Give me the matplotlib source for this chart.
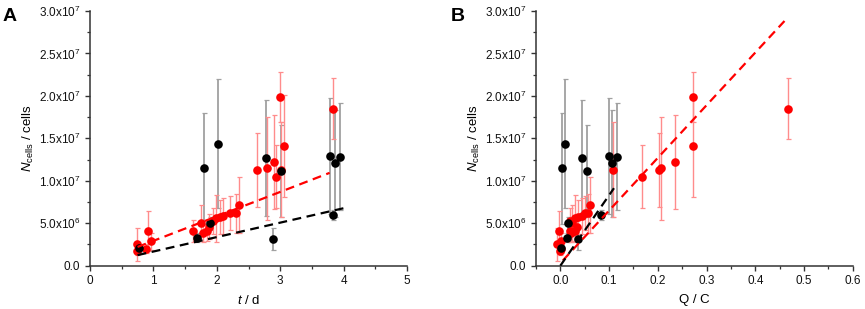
import matplotlib.pyplot as plt
import numpy as np
from matplotlib.ticker import FuncFormatter, MultipleLocator

plt.rcParams['font.family'] = ['Liberation Sans', 'DejaVu Sans']
plt.rcParams['mathtext.fontset'] = 'custom'
plt.rcParams['mathtext.rm'] = 'Liberation Sans'
plt.rcParams['mathtext.it'] = 'Liberation Sans:italic'
plt.rcParams['mathtext.bf'] = 'Liberation Sans:bold'

# red samples: time, charge, cell number, error
red_t = [0.735, 0.746, 0.89, 0.92, 0.956, 1.62, 1.75, 1.78, 1.84, 1.88, 1.94, 1.99, 2.05,
         2.10, 2.21, 2.30, 2.35, 2.64, 2.79, 2.91, 2.93, 3.00, 3.02, 3.06, 3.84]
red_Q = [-0.006, 0.000, 0.002, -0.003, 0.001, 0.020, 0.024, 0.022, 0.030, 0.034, 0.020, 0.031, 0.037,
         0.044, 0.051, 0.056, 0.061, 0.202, 0.207, 0.235, 0.167, 0.273, 0.108, 0.272, 0.468]
red_N = [2.5e6, 1.77e6, 2.0e6, 4.08e6, 2.9e6, 4.08e6, 5.06e6, 3.8e6, 4.1e6, 4.6e6, 5.26e6, 5.57e6, 5.77e6,
         5.85e6, 6.24e6, 6.16e6, 7.15e6, 11.27e6, 11.46e6, 12.2e6, 10.48e6, 19.9e6, 11.3e6, 14.1e6, 18.5e6]
red_err = [1.9e6, 0.5e6, 0.5e6, 2.4e6, 1.0e6, 1.3e6, 2.1e6, 1.0e6, 1.2e6, 1.5e6, 1.5e6, 2.8e6, 2.0e6,
           2.1e6, 2.0e6, 2.3e6, 3.3e6, 4.4e6, 6.1e6, 5.5e6, 3.7e6, 2.95e6, 5.6e6, 6.0e6, 3.55e6]

# black samples
blk_t = [0.78, 1.69, 1.80, 1.90, 2.02, 2.78, 2.89, 3.02, 3.78, 3.84, 3.86, 3.94]
blk_Q = [0.001, 0.014, 0.003, 0.016, 0.0095, 0.045, 0.036, 0.054, 0.100, 0.084, 0.107, 0.116]
blk_N = [2.04e6, 3.3e6, 11.46e6, 4.99e6, 14.37e6, 12.68e6, 3.18e6, 11.19e6, 12.92e6, 5.97e6, 12.05e6, 12.84e6]
blk_err = [0.4e6, 0.5e6, 6.5e6, 0.8e6, 7.6e6, 6.8e6, 1.3e6, 5.4e6, 6.8e6, 0.6e6, 6.3e6, 6.3e6]

# linear fits: slope, intercept, x range
fitA_red = (2.88e6, 0.05e6, 0.75, 3.78)
fitA_blk = (1.70e6, -0.03e6, 0.75, 4.0)
fitB_red = (62e6, 0.3e6, 0.005, 0.46)
fitB_blk = (83e6, 0.0, 0.0, 0.11)


def sci(v, pos):
    if v == 0:
        return '0.0'
    e = int(np.floor(np.log10(abs(v)) + 1e-9))
    m = v / 10**e
    return r'%.1fx10$^{%d}$' % (m, e)


def panel(ax, xr, xb, fr, fb):
    ax.errorbar(xb, blk_N, yerr=blk_err, fmt='none', ecolor='#a0a0a0', elinewidth=1.3,
                capsize=1.8, capthick=0.9, zorder=2)
    ax.errorbar(xr, red_N, yerr=red_err, fmt='none', ecolor='#ff8c8c', elinewidth=1.0,
                capsize=1.8, capthick=0.9, zorder=2)
    ax.plot(xr, red_N, 'o', color='#ff0000', ms=6.2, mec='none', zorder=3)
    ax.plot(xb, blk_N, 'o', color='black', ms=6.2, mec='none', zorder=3)
    for (m, b, x0, x1), c in ((fr, '#ff0000'), (fb, 'black')):
        xx = np.array([x0, x1])
        ax.plot(xx, m * xx + b, color=c, lw=1.6, dashes=(4.0, 2.5), zorder=4)
    ax.set_ylim(0, 3e7)
    ax.yaxis.set_major_locator(MultipleLocator(5e6))
    ax.yaxis.set_minor_locator(MultipleLocator(2.5e6))
    ax.yaxis.set_major_formatter(FuncFormatter(sci))
    for s in ('top', 'right'):
        ax.spines[s].set_visible(False)
    for s in ('left', 'bottom'):
        ax.spines[s].set_color('#333333')
        ax.spines[s].set_linewidth(1.1)
    ax.tick_params(which='major', direction='out', length=3.5, width=1.0, colors='#333333',
                   labelsize=8.5, labelcolor='#111111')
    ax.tick_params(which='minor', direction='out', length=2, width=0.9, colors='#333333')
    ax.set_ylabel(r'$\mathit{N}_{\mathrm{cells}}$ / cells', fontsize=9.5, labelpad=2)


fig = plt.figure(figsize=(8.65, 3.09), dpi=100)
axA = fig.add_axes([90 / 865, 43.3 / 309, 317 / 865, 254.7 / 309])
axB = fig.add_axes([536 / 865, 43.3 / 309, 316.7 / 865, 254.7 / 309])

panel(axA, red_t, blk_t, fitA_red, fitA_blk)
axA.set_xlim(0, 5)
axA.xaxis.set_major_locator(MultipleLocator(1))
axA.xaxis.set_minor_locator(MultipleLocator(0.5))
axA.set_xlabel(r'$\mathit{t}$ / d', fontsize=9.5, labelpad=5)

panel(axB, red_Q, blk_Q, fitB_red, fitB_blk)
axB.set_xlim(-0.05, 0.6)
axB.xaxis.set_major_locator(MultipleLocator(0.1))
axB.xaxis.set_minor_locator(MultipleLocator(0.05))
axB.xaxis.set_major_formatter(FuncFormatter(lambda v, p: '%.1f' % v))
axB.set_xlabel('Q / C', fontsize=9.5, labelpad=5)

fig.text(3 / 865, 1 - 21 / 309, 'A', fontsize=14, fontweight='bold')
fig.text(451 / 865, 1 - 21 / 309, 'B', fontsize=14, fontweight='bold')

plt.savefig('out.png', dpi=100)
